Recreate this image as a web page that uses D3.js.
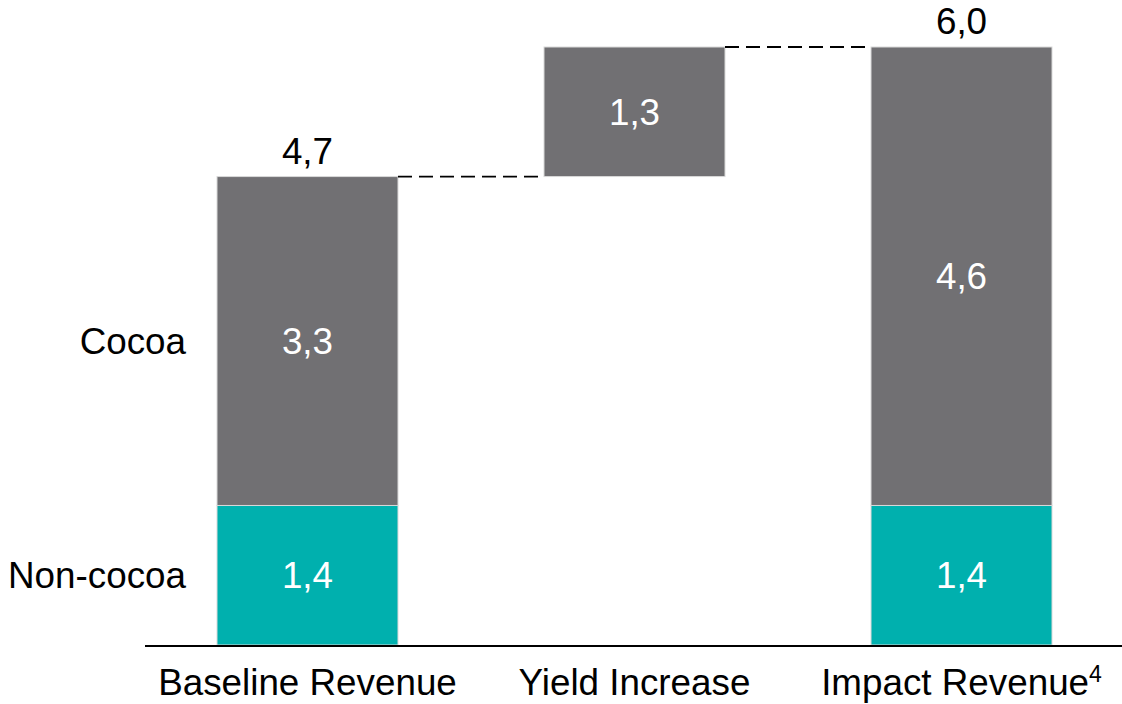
<!DOCTYPE html>
<html>
<head>
<meta charset="utf-8">
<script src="https://cdn.jsdelivr.net/npm/d3@7"></script>
<style>
  html, body { margin: 0; padding: 0; background: #fff; }
  svg { display: block; font-family: "Liberation Sans", Arial, sans-serif; }
</style>
</head>
<body>
<svg id="chart" width="1122" height="704"></svg>
<script>
// Waterfall: baseline revenue, yield increase, impact revenue
const categories = ["Baseline Revenue", "Yield Increase", "Impact Revenue"];
const nonCocoa = [1.4, 0, 1.4];
const cocoa = [3.3, 0, 4.6];
const increase = [0, 1.3, 0];
const totals = [4.7, null, 6.0];
const segmentLabels = ["Non-cocoa", "Cocoa"];
const fmt = v => v.toFixed(1).replace(".", ",");

const svg = d3.select("#chart");
const grey = "#717073", teal = "#00b0ae";
const fs = 36.8;

const x = d3.scaleBand().domain(categories).range([217, 1052]).paddingInner(0.4465).paddingOuter(0);
const y = d3.scaleLinear().domain([0, 6.0]).range([645, 47]);

// Build the segments for each column
const segs = [];
categories.forEach((c, i) => {
  if (nonCocoa[i] > 0) segs.push({c, y0: 0, y1: nonCocoa[i], v: nonCocoa[i], color: teal});
  if (cocoa[i] > 0) segs.push({c, y0: nonCocoa[i], y1: nonCocoa[i] + cocoa[i], v: cocoa[i], color: grey});
  if (increase[i] > 0) {
    const base = totals[i - 1];
    segs.push({c, y0: base, y1: base + increase[i], v: increase[i], color: grey});
  }
});

svg.append("g").selectAll("rect").data(segs).join("rect")
  .attr("x", d => x(d.c))
  .attr("width", x.bandwidth())
  .attr("y", d => y(d.y1))
  .attr("height", d => y(d.y0) - y(d.y1))
  .attr("fill", d => d.color)
  .attr("stroke", "#d9d9d9")
  .attr("stroke-width", 1);

svg.append("g").selectAll("text").data(segs).join("text")
  .attr("x", d => x(d.c) + x.bandwidth() / 2)
  .attr("y", d => (y(d.y0) + y(d.y1)) / 2)
  .attr("dy", "0.36em")
  .attr("text-anchor", "middle")
  .attr("font-size", fs)
  .attr("fill", "#fff")
  .text(d => fmt(d.v));

// Totals above the full columns
svg.append("g").selectAll("text").data(categories.map((c, i) => ({c, t: totals[i]})).filter(d => d.t != null))
  .join("text")
  .attr("x", d => x(d.c) + x.bandwidth() / 2)
  .attr("y", d => y(d.t) - 13)
  .attr("text-anchor", "middle")
  .attr("font-size", fs)
  .attr("fill", "#000")
  .text(d => fmt(d.t));

// Connector lines
const connectors = [
  {from: categories[0], to: categories[1], v: totals[0]},
  {from: categories[1], to: categories[2], v: totals[0] + increase[1]}
];
svg.append("g").selectAll("line").data(connectors).join("line")
  .attr("x1", d => x(d.from) + x.bandwidth())
  .attr("x2", d => x(d.to))
  .attr("y1", d => y(d.v))
  .attr("y2", d => y(d.v))
  .attr("stroke", "#000")
  .attr("stroke-width", 1.8)
  .attr("stroke-dasharray", "14,7");

// Baseline axis
svg.append("line")
  .attr("x1", 145).attr("x2", 1122)
  .attr("y1", y(0) + 1).attr("y2", y(0) + 1)
  .attr("stroke", "#000").attr("stroke-width", 2);

// Category labels
const catText = svg.append("g").selectAll("text").data(categories).join("text")
  .attr("x", d => x(d) + x.bandwidth() / 2)
  .attr("y", 695)
  .attr("text-anchor", "middle")
  .attr("font-size", fs)
  .attr("fill", "#000");
catText.append("tspan").text(d => d);
catText.filter(d => d === "Impact Revenue").append("tspan")
  .attr("dy", -13).attr("font-size", 23).text("4");

// Segment labels to the left of the first column
const segMid = [(y(0) + y(nonCocoa[0])) / 2, (y(nonCocoa[0]) + y(nonCocoa[0] + cocoa[0])) / 2];
svg.append("g").selectAll("text").data(segmentLabels).join("text")
  .attr("x", 186)
  .attr("y", (d, i) => segMid[i])
  .attr("dy", "0.36em")
  .attr("text-anchor", "end")
  .attr("font-size", fs)
  .attr("fill", "#000")
  .text(d => d);
</script>
</body>
</html>
